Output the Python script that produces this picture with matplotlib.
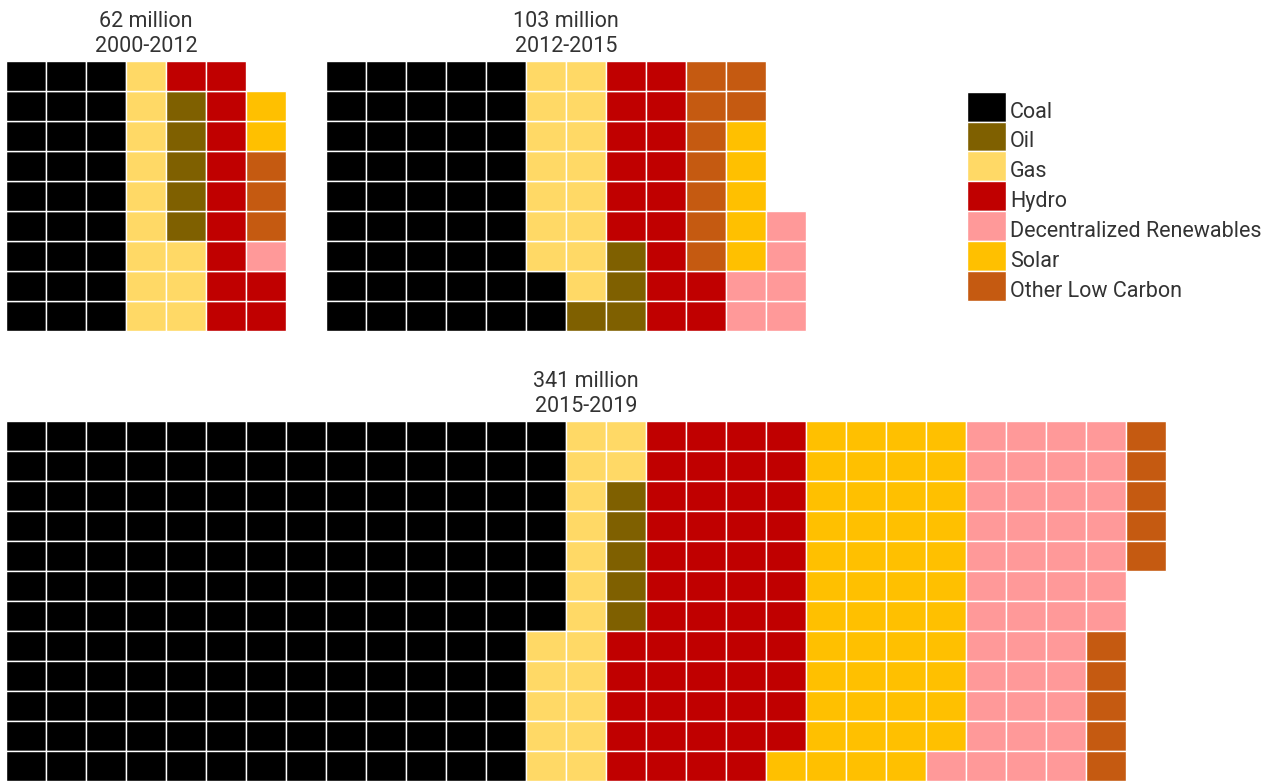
import matplotlib
matplotlib.use("Agg")
import matplotlib.pyplot as plt
from matplotlib.patches import Rectangle

# Energy sources and their colours
categories = ["Coal", "Oil", "Gas", "Hydro", "Decentralized Renewables",
              "Solar", "Other Low Carbon"]
colors = ["#000000", "#7F6000", "#FFD966", "#C00000", "#FF9999",
          "#FFC000", "#C55A11"]

# People gaining electricity access (millions) by source, per period
periods = ["2000-2012", "2012-2015", "2015-2019"]
added_2000_2012 = [27, 5, 12, 12, 1, 2, 3]
added_2012_2015 = [47, 4, 15, 17, 6, 5, 9]
added_2015_2019 = [163, 5, 19, 52, 44, 48, 10]

# Waffle layout per period: grid shape, stacking order and fill direction
panels = [
    dict(period=periods[0], counts=added_2000_2012, rows=9, cols=7,
         left=6, top=61, mode="up",
         order=["Coal", "Gas", "Oil", "Hydro", "Decentralized Renewables",
                "Other Low Carbon", "Solar"]),
    dict(period=periods[1], counts=added_2012_2015, rows=9, cols=12,
         left=326, top=61, mode="snake",
         order=["Coal", "Gas", "Oil", "Hydro", "Other Low Carbon", "Solar",
                "Decentralized Renewables"]),
    dict(period=periods[2], counts=added_2015_2019, rows=12, cols=29,
         left=6, top=421, mode="down",
         order=["Coal", "Gas", "Oil", "Hydro", "Solar",
                "Decentralized Renewables", "Other Low Carbon"]),
]

W, H = 1264, 781
CELL_W, CELL_H = 40, 30
TEXT = "#333333"
GRID = "white"
LW = 1.0
plt.rcParams["font.family"] = ["Roboto", "DejaVu Sans"]
FS = 15.5  # points
PX = 72 / 100  # points per pixel


def cell_sequence(nrows, ncols, mode):
    seq = []
    for c in range(ncols):
        rows = list(range(nrows))
        if mode == "up" or (mode == "snake" and c % 2 == 1):
            rows = rows[::-1]
        seq.extend((r, c) for r in rows)
    return seq


def px_axes(left, top, width, height):
    return fig.add_axes([left / W, (H - top - height) / H, width / W, height / H])


fig = plt.figure(figsize=(W / 100, H / 100), dpi=100)
fig.patch.set_facecolor("white")

for p in panels:
    nrows, ncols = p["rows"], p["cols"]
    ax = px_axes(p["left"], p["top"], ncols * CELL_W, nrows * CELL_H)
    ax.set_xlim(0, ncols)
    ax.set_ylim(nrows, 0)
    ax.axis("off")

    units = []
    for name in p["order"]:
        k = categories.index(name)
        units.extend([k] * p["counts"][k])
    for (r, c), k in zip(cell_sequence(nrows, ncols, p["mode"]), units):
        ax.add_patch(Rectangle((c, r), 1, 1, facecolor=colors[k],
                               edgecolor=GRID, linewidth=LW, clip_on=False))

    total = sum(p["counts"])
    ax.annotate(f"{total} million", xy=(0.5, 1), xycoords="axes fraction",
                xytext=(0, 34.3 * PX), textcoords="offset points", ha="center",
                va="baseline", fontsize=FS, color=TEXT)
    ax.annotate(p["period"], xy=(0.5, 1), xycoords="axes fraction",
                xytext=(0, 8.8 * PX), textcoords="offset points", ha="center",
                va="baseline", fontsize=FS, color=TEXT)

# Legend: stacked colour swatches with labels
lax = px_axes(967, 91.7, 38.5, 30 * len(categories) - 1)
lax.set_xlim(0, 1)
lax.set_ylim(len(categories), 0)
lax.axis("off")
for i, (lab, col) in enumerate(zip(categories, colors)):
    lax.add_patch(Rectangle((0, i), 1, 1, facecolor=col, edgecolor=GRID,
                            linewidth=LW, clip_on=False))
    lax.annotate(lab, xy=(1, i + 1), xycoords="data",
                 xytext=(4.5 * PX, 4.0 * PX), textcoords="offset points",
                 ha="left", va="baseline", fontsize=FS, color=TEXT)

fig.savefig("out.png", dpi=100, facecolor="white")
